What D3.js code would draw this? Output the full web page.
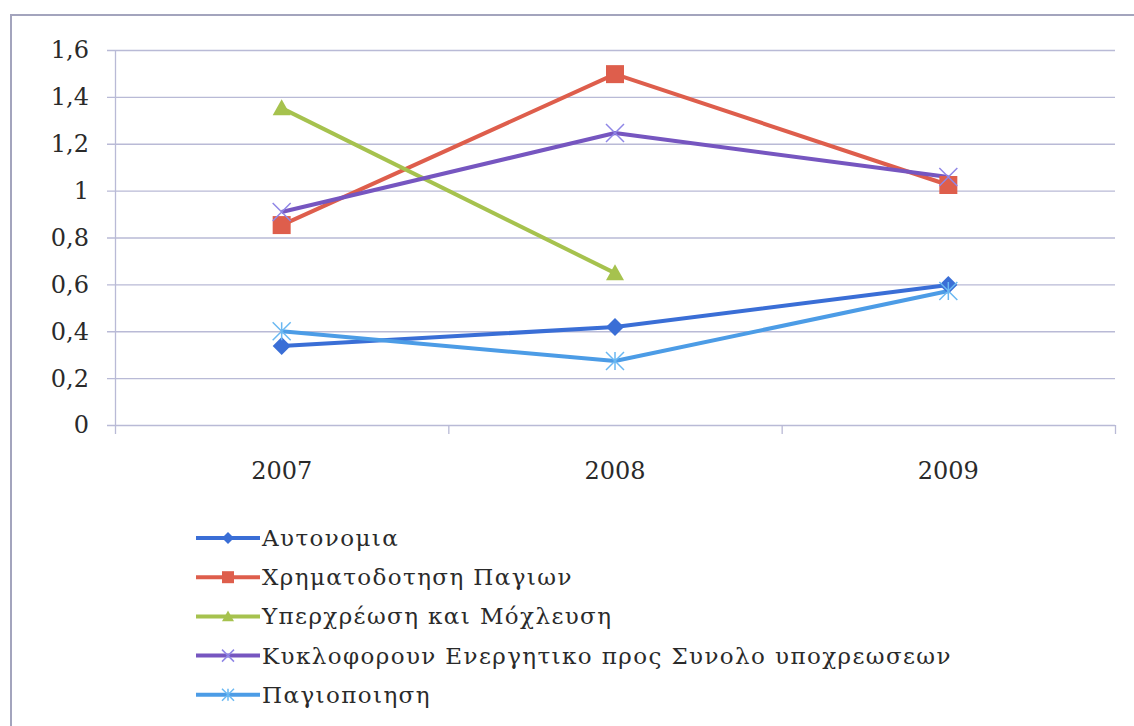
<!DOCTYPE html>
<meta charset="utf-8">
<style>
  body { margin: 0; background: #fff; }
  svg text { font-family: "DejaVu Serif", serif; }
</style>
<svg width="1134" height="726"></svg>
<script src="https://d3js.org/d3.v7.min.js"></script>
<script>

var years = ["2007", "2008", "2009"];
var yTicks = [0, 0.2, 0.4, 0.6, 0.8, 1, 1.2, 1.4, 1.6];

var names = [
  "Αυτονομια",
  "Χρηματοδοτηση Παγιων",
  "Υπερχρέωση και Μόχλευση",
  "Κυκλοφορουν Ενεργητικο προς Συνολο υποχρεωσεων",
  "Παγιοποιηση"
];
var autonomia   = [0.337, 0.418, 0.597];
var xrimatodot  = [0.853, 1.497, 1.024];
var yperxreosi  = [1.352, 0.648, null];
var kykloforoun = [0.909, 1.246, 1.058];
var pagiopoiisi = [0.400, 0.273, 0.572];

var colors  = ["#3a6ed6", "#de5e4c", "#a6c24e", "#7656c0", "#4c9ce6"];
var symbols = ["diamond", "square", "triangle", "x", "asterisk"];

var series = [autonomia, xrimatodot, yperxreosi, kykloforoun, pagiopoiisi].map(function(v, i) {
  return { name: names[i], values: v, color: colors[i], symbol: symbols[i] };
});

var svg = d3.select("svg");
var gridColor = "#b9bad6";

// outer frame
svg.append("rect")
    .attr("x", 11).attr("y", 15)
    .attr("width", 1140).attr("height", 730)
    .attr("fill", "none")
    .attr("stroke", "#a3a4bd")
    .attr("stroke-width", 2);

var x = d3.scaleBand().domain(years).range([115, 1115]);
var y = d3.scaleLinear().domain([0, 1.6]).range([425, 50]);

// gridlines
svg.append("g")
  .selectAll("line")
  .data(yTicks)
  .enter().append("line")
    .attr("x1", 107).attr("x2", 1115)
    .attr("y1", function(d) { return y(d) + 0.5; })
    .attr("y2", function(d) { return y(d) + 0.5; })
    .attr("stroke", gridColor)
    .attr("stroke-width", 1.3);

// y axis line
svg.append("line")
    .attr("x1", 115.5).attr("x2", 115.5)
    .attr("y1", y(1.6)).attr("y2", 434)
    .attr("stroke", gridColor).attr("stroke-width", 1.3);

// x tick marks at category boundaries
svg.append("g")
  .selectAll("line")
  .data(years)
  .enter().append("line")
    .attr("x1", function(d) { return x(d) + x.bandwidth() + 0.5; })
    .attr("x2", function(d) { return x(d) + x.bandwidth() + 0.5; })
    .attr("y1", 425).attr("y2", 434)
    .attr("stroke", gridColor).attr("stroke-width", 1.3);

var fmt = function(d) { return String(d).replace(".", ","); };

svg.append("g")
  .selectAll("text")
  .data(yTicks)
  .enter().append("text")
    .attr("x", 89)
    .attr("y", function(d) { return y(d); })
    .attr("dy", "0.35em")
    .attr("text-anchor", "end")
    .attr("font-size", 24)
    .attr("fill", "#2a2a2a")
    .text(fmt);

svg.append("g")
  .selectAll("text")
  .data(years)
  .enter().append("text")
    .attr("x", function(d) { return x(d) + x.bandwidth() / 2; })
    .attr("y", 471)
    .attr("dy", "0.35em")
    .attr("text-anchor", "middle")
    .attr("font-size", 24)
    .attr("fill", "#2a2a2a")
    .text(function(d) { return d; });

function marker(sel, s, size) {
  var h = size / 2;
  if (s.symbol === "diamond") {
    sel.append("path")
      .attr("d", "M0," + (-h) + "L" + h + ",0L0," + h + "L" + (-h) + ",0Z")
      .attr("fill", s.color);
  } else if (s.symbol === "square") {
    sel.append("rect")
      .attr("x", -h).attr("y", -h).attr("width", size).attr("height", size)
      .attr("fill", s.color);
  } else if (s.symbol === "triangle") {
    sel.append("path")
      .attr("d", "M0," + (-h) + "L" + h + "," + (h * 0.8) + "L" + (-h) + "," + (h * 0.8) + "Z")
      .attr("fill", s.color);
  } else if (s.symbol === "x") {
    sel.append("path")
      .attr("d", "M" + (-h) + "," + (-h) + "L" + h + "," + h + "M" + h + "," + (-h) + "L" + (-h) + "," + h)
      .attr("stroke", "#8f86e6").attr("stroke-width", 1.5).attr("fill", "none");
  } else {
    sel.append("path")
      .attr("d", "M" + (-h) + "," + (-h) + "L" + h + "," + h + "M" + h + "," + (-h) + "L" + (-h) + "," + h +
                 "M0," + (-h) + "L0," + h)
      .attr("stroke", "#6ab8f2").attr("stroke-width", 1.5).attr("fill", "none");
  }
}

var line = d3.line()
    .defined(function(d) { return d != null; })
    .x(function(d, i) { return x(years[i]) + x.bandwidth() / 2; })
    .y(function(d) { return y(d); });

series.forEach(function(s) {
  svg.append("path")
      .datum(s.values)
      .attr("fill", "none")
      .attr("stroke", s.color)
      .attr("stroke-width", 4)
      .attr("stroke-linejoin", "round")
      .attr("d", line);
});

series.forEach(function(s) {
  s.values.forEach(function(v, i) {
    if (v == null) return;
    var g = svg.append("g")
        .attr("transform", "translate(" + (x(years[i]) + x.bandwidth() / 2) + "," + y(v) + ")");
    marker(g, s, 18);
  });
});

// legend
var legend = svg.append("g").attr("transform", "translate(196,538)");
var item = legend.selectAll("g")
  .data(series)
  .enter().append("g")
    .attr("transform", function(d, i) { return "translate(0," + (i * 39.2) + ")"; });

item.append("line")
    .attr("x1", 0).attr("x2", 64)
    .attr("stroke", function(d) { return d.color; })
    .attr("stroke-width", 4);

item.each(function(d) {
  var g = d3.select(this).append("g").attr("transform", "translate(32,0)");
  marker(g, d, 12);
});

item.append("text")
    .attr("x", 66)
    .attr("dy", "0.35em")
    .attr("font-size", 23)
    .attr("letter-spacing", 1.4)
    .attr("fill", "#2a2a2a")
    .text(function(d) { return d.name; });

</script>
